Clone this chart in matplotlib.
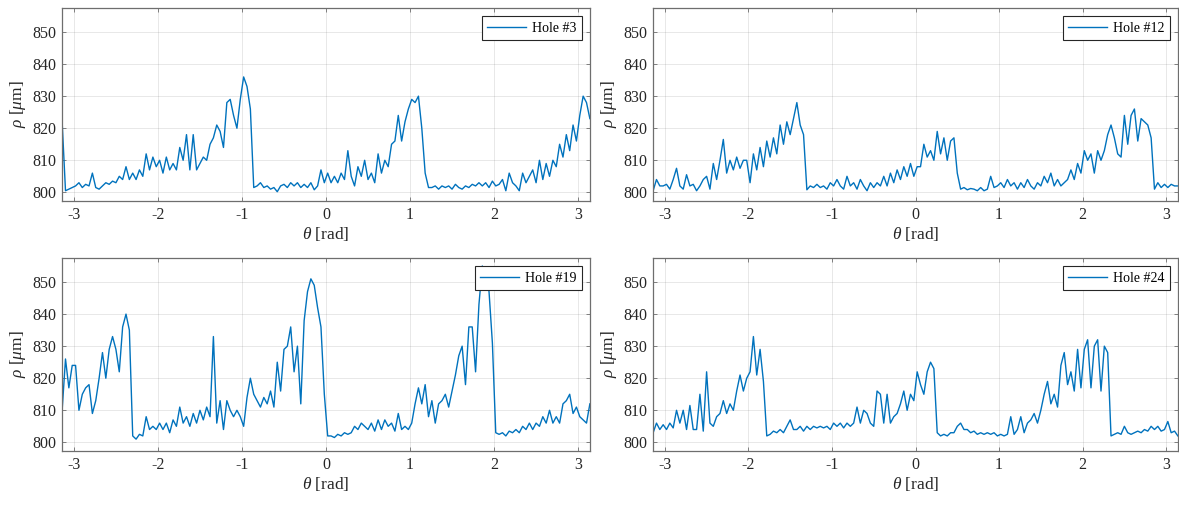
import numpy as np
import matplotlib
matplotlib.use("Agg")
import matplotlib.pyplot as plt

plt.rcParams['font.family'] = ['Liberation Serif', 'DejaVu Serif']
plt.rcParams['mathtext.fontset'] = 'custom'
plt.rcParams['mathtext.rm'] = 'Liberation Serif'
plt.rcParams['mathtext.it'] = 'Liberation Serif:italic'

# sampling angles (rad), one value every 0.04 rad
theta = np.linspace(-3.14, 3.14, 158)

rho3 = [
    822, 800.5, 801, 801.5, 802, 803, 801.5, 802.5, 802, 806,
    801.5, 801, 802, 803, 802.5, 803.5, 803, 805, 804, 808,
    804, 806, 804, 807, 805, 812, 807, 811, 808, 810,
    806, 811, 807, 809, 807, 814, 810, 818, 807, 818,
    807, 809, 811, 810, 815, 817, 821, 819, 814, 828,
    829, 824, 820, 829, 836, 833, 826, 801.5, 802, 803,
    801.5, 802, 801, 801.5, 800.2, 802, 802.5, 801.5, 803, 802,
    803, 801.5, 802.5, 801.5, 803, 800.8, 802, 807, 803, 806,
    803, 805, 803, 806, 804, 813, 805, 802, 808, 805,
    810, 804, 806, 803, 812, 806, 810, 808, 815, 816,
    824, 816, 822, 826, 829, 828, 830, 820, 806, 801.5,
    801.5, 802, 801, 802, 801.5, 802, 801, 802.5, 801.5, 801,
    802, 801.5, 802.5, 802, 803, 802, 803, 801.5, 803.5, 802,
    802.5, 804, 800.5, 806, 803, 802, 800.5, 806, 803, 805,
    807, 803, 810, 804, 809, 805, 810, 808, 815, 811,
    818, 813, 821, 816, 824, 830, 828, 823,
]

rho12 = [
    800.5, 804, 802, 802, 802.5, 801, 804, 807.5, 802, 801,
    805.5, 802, 802.5, 800.5, 802, 804, 805, 801, 809, 804,
    810, 816.5, 806, 810, 807, 811, 807.5, 810, 810, 803,
    812, 807, 814, 808, 816, 811, 817, 812, 821, 815,
    822, 818, 823, 828, 821, 818, 800.8, 802, 801.5, 802.5,
    801.5, 802, 801, 803, 802, 804, 802, 801, 805, 802,
    803, 801, 804, 802, 800.5, 803, 801.5, 803, 802, 805,
    802, 806, 803, 807, 804, 808, 805, 809, 805, 808,
    808, 815, 811, 813, 810, 819, 812, 817, 810, 816,
    817, 806, 801, 801.5, 800.8, 801.2, 801, 800.5, 801.5, 800.5,
    801, 805, 801.5, 802, 803, 801.5, 804, 802, 803, 801,
    803, 801.5, 804, 802, 801, 803, 802, 805, 803, 806,
    802, 804, 802, 803, 804, 807, 804, 809, 806, 813,
    810, 812, 806, 813, 810, 813, 818, 821, 817, 812,
    811, 824, 815, 824, 826, 816, 823, 822, 821, 817,
    801, 803, 801.5, 802.5, 801.5, 802.5, 802, 802,
]

rho19 = [
    810, 826, 817, 824, 824, 810, 815, 817, 818, 809,
    813, 820, 828, 820, 829, 833, 829, 822, 836, 840,
    835, 802, 801, 802.5, 802, 808, 804, 805, 804, 806,
    804, 806, 803, 807, 805, 811, 806, 808, 805, 809,
    806, 810, 807, 811, 808, 833, 806, 813, 804, 813,
    810, 808, 810, 808, 805, 814, 820, 815, 813, 811,
    814, 812, 816, 811, 825, 816, 829, 830, 836, 822,
    830, 812, 838, 847, 851, 849, 842, 836, 815, 802,
    802, 801.5, 802.5, 802, 803, 802.5, 803, 805, 804, 806,
    805, 804, 806, 803.5, 807, 804, 807, 805, 806, 803.5,
    809, 804, 805, 804, 806, 812, 817, 812, 818, 808,
    813, 806, 812, 813, 815, 811, 816, 821, 827, 830,
    818, 836, 836, 822, 843, 855, 853, 847, 831, 803,
    802.5, 803, 802, 803.5, 803, 804, 803, 805, 804, 806,
    804, 806, 805, 808, 806, 810, 806, 808, 806, 812,
    813, 815, 809, 811, 808, 807, 806, 812,
]

rho24 = [
    803, 806, 804, 805.5, 804, 806, 804.5, 810, 806, 810,
    804, 811.5, 804, 804, 815, 803.5, 822, 806, 805, 808,
    809, 813, 809, 812, 810, 816, 821, 816, 820, 822,
    833, 821, 829, 819, 802, 802.5, 803.5, 803, 804, 803,
    805, 807, 804, 804, 805, 803.5, 805, 804, 805, 804.5,
    805, 804.5, 805, 804, 806, 805, 806, 804.5, 806, 805,
    806, 811, 806, 810, 809, 806, 805, 816, 815, 806,
    815, 806, 808, 809, 812, 816, 810, 815, 813, 822,
    818, 815, 822, 825, 823, 803, 802, 802.5, 802, 803,
    803, 805, 806, 804, 804, 803, 803.5, 802.5, 803, 802.5,
    803, 802.5, 803, 802, 802.5, 802, 802.5, 808, 802.5, 804,
    808, 803, 806, 807, 809, 806, 810, 815, 819, 812,
    815, 811, 824, 828, 818, 822, 816, 829, 817, 829,
    832, 817, 830, 832, 816, 830, 828, 802, 802.5, 803,
    802.5, 805, 803, 802.5, 803, 803.5, 803, 804, 803.5, 805,
    804, 805, 803.5, 804, 806.5, 803, 803.5, 802,
]

series = [("Hole #3", rho3), ("Hole #12", rho12), ("Hole #19", rho19), ("Hole #24", rho24)]
xticks = [-3, -2, -1, 0, 1, 2, 3]
yticks = [800, 810, 820, 830, 840, 850]

W, H = 1179, 505
fig = plt.figure(figsize=(W / 100, H / 100), dpi=100)
boxes = [(62, 8, 590, 201), (653, 8, 1178, 201), (62, 258, 590, 451), (653, 258, 1178, 451)]

axcol = '#262626'
for (name, rho), (l, t, r, b) in zip(series, boxes):
    ax = fig.add_axes([l / W, 1 - b / H, (r - l) / W, (b - t) / H])
    ax.plot(theta, rho, color='#0072BD', lw=1.0, label=name)
    ax.set_xlim(-np.pi, np.pi)
    ax.set_ylim(797.3, 857.5)
    ax.set_xticks(xticks)
    ax.set_yticks(yticks)
    ax.set_xticklabels([str(v) for v in xticks])
    ax.grid(True, color=axcol, alpha=0.12, lw=0.6)
    ax.set_axisbelow(True)
    for s in ax.spines.values():
        s.set_color('#6e6e6e')
        s.set_linewidth(0.9)
    ax.tick_params(direction='in', length=3, width=0.6, color='#6e6e6e',
                   labelsize=11.5, labelcolor=axcol, pad=4, top=True, right=True)
    ax.set_xlabel(r'$\theta$ [rad]', fontsize=12.5, color=axcol, labelpad=2)
    ax.set_ylabel(r'$\rho$ [$\mu$m]', fontsize=12.5, color=axcol, labelpad=3)
    leg = ax.legend(loc='upper right', fontsize=10, frameon=True, fancybox=False,
                    borderaxespad=0.6, handlelength=2.8, handletextpad=0.4,
                    borderpad=0.4)
    leg.get_frame().set_edgecolor(axcol)
    leg.get_frame().set_linewidth(0.8)
    leg.get_frame().set_alpha(1)

fig.savefig('out.png', dpi=100)
